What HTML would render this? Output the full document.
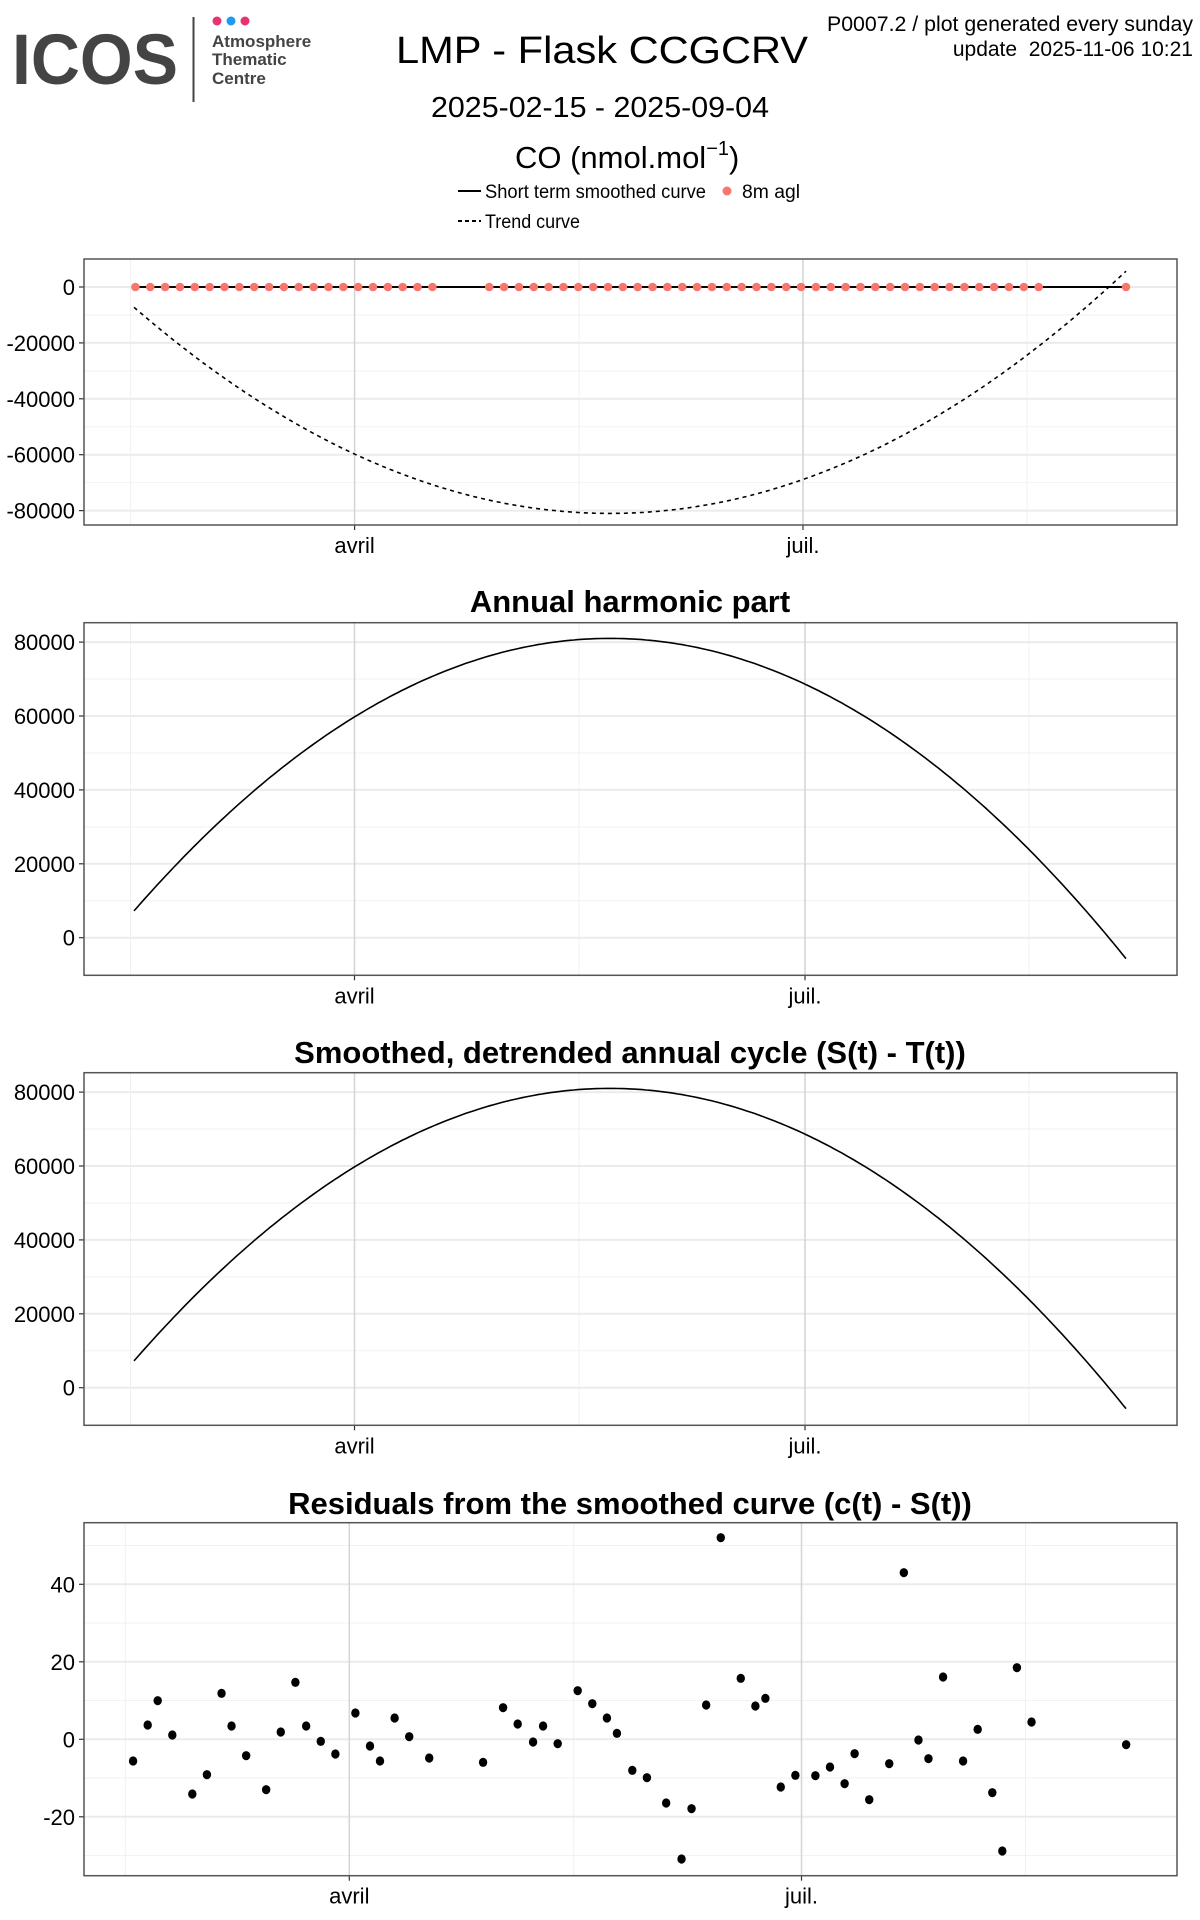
<!DOCTYPE html>
<html><head><meta charset="utf-8"><style>
html,body{margin:0;padding:0;background:#fff;width:1200px;height:1920px;overflow:hidden}
svg{display:block}
text{font-family:"Liberation Sans",sans-serif}
</style></head><body>
<svg id="s" width="1200" height="1920" viewBox="0 0 1200 1920" xmlns="http://www.w3.org/2000/svg">
<text x="12" y="84" font-size="71" font-weight="bold" fill="#444" textLength="166" lengthAdjust="spacingAndGlyphs">ICOS</text>
<line x1="193.5" y1="17" x2="193.5" y2="102" stroke="#444" stroke-width="2"/>
<circle cx="217" cy="21" r="4.5" fill="#e8336f"/><circle cx="231" cy="21" r="4.5" fill="#1e9bef"/><circle cx="245" cy="21" r="4.5" fill="#e8336f"/>
<text x="212" y="47" font-size="17" font-weight="bold" fill="#444">Atmosphere</text>
<text x="212" y="65" font-size="17" font-weight="bold" fill="#444">Thematic</text>
<text x="212" y="84" font-size="17" font-weight="bold" fill="#444">Centre</text>
<text x="602" y="63" font-size="38" text-anchor="middle" textLength="412" lengthAdjust="spacingAndGlyphs">LMP - Flask CCGCRV</text>
<text x="600" y="117" font-size="29" text-anchor="middle" textLength="338" lengthAdjust="spacingAndGlyphs">2025-02-15 - 2025-09-04</text>
<text x="515" y="168" font-size="31">CO (nmol.mol<tspan font-size="20" dy="-13">−1</tspan><tspan dy="13">)</tspan></text>
<text x="1193" y="31" font-size="21" text-anchor="end" textLength="366" lengthAdjust="spacingAndGlyphs">P0007.2 / plot generated every sunday</text>
<text x="1193" y="56" font-size="21" text-anchor="end" xml:space="preserve">update  2025-11-06 10:21</text>
<line x1="458" y1="191" x2="481" y2="191" stroke="#000" stroke-width="2"/>
<text x="485" y="198" font-size="19" textLength="221" lengthAdjust="spacingAndGlyphs">Short term smoothed curve</text>
<circle cx="727" cy="191" r="4.5" fill="#f8766d"/>
<text x="742" y="198" font-size="19" textLength="58" lengthAdjust="spacingAndGlyphs">8m agl</text>
<line x1="458" y1="221" x2="481" y2="221" stroke="#000" stroke-width="2" stroke-dasharray="4,3"/>
<text x="485" y="228" font-size="19" textLength="95" lengthAdjust="spacingAndGlyphs">Trend curve</text>
<text x="630" y="612" font-size="31" font-weight="bold" text-anchor="middle">Annual harmonic part</text>
<text x="630" y="1063" font-size="31" font-weight="bold" text-anchor="middle">Smoothed, detrended annual cycle (S(t) - T(t))</text>
<text x="630" y="1514" font-size="31" font-weight="bold" text-anchor="middle">Residuals from the smoothed curve (c(t) - S(t))</text>
</svg>
<script>
var S=document.getElementById('s'),NS='http://www.w3.org/2000/svg';
function el(t,a,txt){var e=document.createElementNS(NS,t);for(var k in a)e.setAttribute(k,a[k]);if(txt!=null)e.textContent=txt;S.appendChild(e);return e;}
function panel(o){
 var L=84,R=1177,T=o.top,B=o.bot;
 var ymap=function(v){return o.y0+(v-o.v0)*o.k;};
 o.minor.forEach(function(v){var y=ymap(v);el('line',{x1:L,x2:R,y1:y,y2:y,stroke:'#f2f2f2','stroke-width':1});});
 [o.ax-224,o.ax+224.5,o.jx+224].forEach(function(x){el('line',{x1:x,x2:x,y1:T,y2:B,stroke:'#f0f0f0','stroke-width':1});});
 o.ticks.forEach(function(v){var y=ymap(v);el('line',{x1:L,x2:R,y1:y,y2:y,stroke:'#ebebeb','stroke-width':2});
  el('line',{x1:L-5,x2:L,y1:y,y2:y,stroke:'#333','stroke-width':1.2});
  el('text',{x:L-9,y:y+8,'font-size':22,'text-anchor':'end'},String(v));});
 [o.ax,o.jx].forEach(function(x,i){el('line',{x1:x,x2:x,y1:T,y2:B,stroke:'#d4d4d4','stroke-width':1.5});
  el('line',{x1:x,x2:x,y1:B,y2:B+5,stroke:'#333','stroke-width':1.2});
  el('text',{x:x,y:B+28,'font-size':22,'text-anchor':'middle'},i?'juil.':'avril');});
 o.draw(ymap);
 el('rect',{x:L,y:T,width:R-L,height:B-T,fill:'none',stroke:'#555','stroke-width':1.5});
}
function curve(ymap,sign,dash){var d='';for(var x=134;x<=1126;x+=4){var v=sign*(81000-0.3255*Math.pow(x-610,2));d+=(x==134?'M':'L')+x+','+ymap(v).toFixed(1)+' ';}
 var a={d:d,fill:'none',stroke:'#000','stroke-width':1.6};if(dash)a['stroke-dasharray']='4,4';el('path',a);}
panel({top:259,bot:525,y0:287,v0:0,k:-55.9/20000,ax:354.6,jx:803,ticks:[0,-20000,-40000,-60000,-80000],minor:[-10000,-30000,-50000,-70000],
 draw:function(ym){curve(ym,-1,true);
  el('line',{x1:134,x2:1126,y1:287,y2:287,stroke:'#000','stroke-width':2});
  var xs=[];for(var i=0;i<21;i++)xs.push(135.4+i*14.85);for(var j=0;j<38;j++)xs.push(489.2+j*14.85);xs.push(1126);
  xs.forEach(function(x){el('circle',{cx:x,cy:287,r:4.3,fill:'#f8766d'});});}});
[[622.7,975.3,937.7],[1072.7,1425.3,1387.7]].forEach(function(p){
panel({top:p[0],bot:p[1],y0:p[2],v0:0,k:-73.9/20000,ax:354.5,jx:805,ticks:[0,20000,40000,60000,80000],minor:[10000,30000,50000,70000],
 draw:function(ym){curve(ym,1,false);}});});
var pts=[[173,843],[192,735],[205,662],[224,765],[250,942],[269,884],[288,640],[301,738],[320,827],[346,929],[365,756],[384,607],[398,738],[417,784],[436,822],[462,699],[481,798],[494,843],[513,714],[532,770],[558,834],[628,847],[654,683],[673,732],[693,786],[706,738],[725,791],[751,632],[770,671],[789,714],[802,760],[822,871],[841,893],[866,969],[886,1137],[899,986],[918,675],[937,173],[963,595],[982,678],[995,655],[1015,921],[1034,886],[1060,887],[1079,861],[1098,911],[1111,821],[1130,959],[1156,851],[1175,278],[1194,780],[1207,836],[1226,591],[1252,843],[1271,748],[1290,938],[1303,1113],[1322,563],[1341,726],[1464,794]];
panel({top:1522.7,bot:1875.7,y0:1739.3,v0:0,k:-77.5/20,ax:349.3,jx:801.5,ticks:[-20,0,20,40],minor:[-30,-10,10,30,50],
 draw:function(ym){pts.forEach(function(p){el('ellipse',{cx:p[0]/1.3,cy:1480+p[1]/3,rx:4.2,ry:4.6,fill:'#000'});});}});
</script>
</body></html>
